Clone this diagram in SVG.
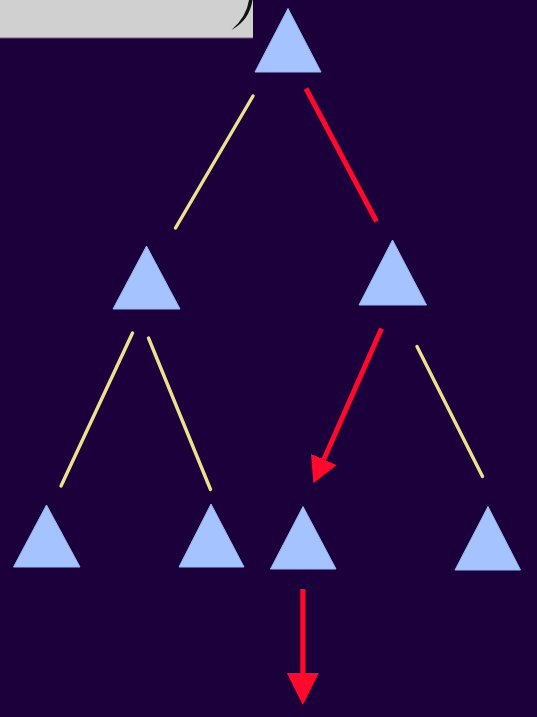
<svg xmlns="http://www.w3.org/2000/svg" width="537" height="717" viewBox="0 0 537 717">
<style>
.tri{fill:#a5c3ff;stroke:#9cb6ee;stroke-width:1;stroke-linejoin:round}
.yl{stroke:#ece28e;stroke-width:3.4;stroke-linecap:round;fill:none}
.rd{stroke:#ff0a2c;stroke-width:5;stroke-linecap:butt;fill:none}
</style>
<defs>
<marker id="headD" markerUnits="userSpaceOnUse" markerWidth="30" markerHeight="30" refX="0" refY="14" orient="auto" viewBox="0 0 30 30">
<path d="M0,0 L26,14 L0,28 Z" fill="#ff0a2c"/>
</marker>
<marker id="headV" markerUnits="userSpaceOnUse" markerWidth="34" markerHeight="34" refX="0" refY="16" orient="auto" viewBox="0 0 34 34">
<path d="M0,0 L32,16 L0,32 Z" fill="#ff0a2c"/>
</marker>
</defs>
<rect x="0" y="0" width="537" height="717" fill="#1c003c"/>
<g id="panel">
<rect x="0" y="0" width="253" height="38" fill="#d0d0d0"/>
<line x1="0" y1="38" x2="253" y2="38" stroke="#6a5a86" stroke-width="1"/>
<path d="M249,0 Q246.5,17 231.5,30 Q249.5,20 252.5,0 Z" fill="#111"/>
</g>
<g id="connectors">
<line class="yl" x1="253" y1="96" x2="175.5" y2="228"/>
<line class="rd" x1="306" y1="88.5" x2="376.5" y2="221.5" stroke-linecap="round"/>
<line class="yl" x1="132.5" y1="333" x2="61" y2="486"/>
<line class="yl" x1="148.5" y1="338" x2="210.5" y2="489.5"/>
<line class="rd" x1="381.5" y1="328.5" x2="323.8" y2="459.5" marker-end="url(#headD)"/>
<line class="yl" x1="417" y1="346.5" x2="482.5" y2="476.5"/>
<line class="rd" x1="302.8" y1="589" x2="302.8" y2="673" stroke-width="7.5" marker-end="url(#headV)"/>
</g>
<g id="n-root"><polygon class="tri" points="288,8.5 321,72 255,72"/></g>
<g id="n-midleft"><polygon class="tri" points="146.5,246 180,309 113,309"/></g>
<g id="n-midright"><polygon class="tri" points="392.5,240 426.5,305 359,305"/></g>
<g id="n-b1"><polygon class="tri" points="46.5,505 80,567 13.5,567"/></g>
<g id="n-b2"><polygon class="tri" points="211,504 244,567 179,567"/></g>
<g id="n-b3"><polygon class="tri" points="303,506.5 336,569 270.5,569"/></g>
<g id="n-b4"><polygon class="tri" points="488,506.5 520.5,570 455,570"/></g>
</svg>
